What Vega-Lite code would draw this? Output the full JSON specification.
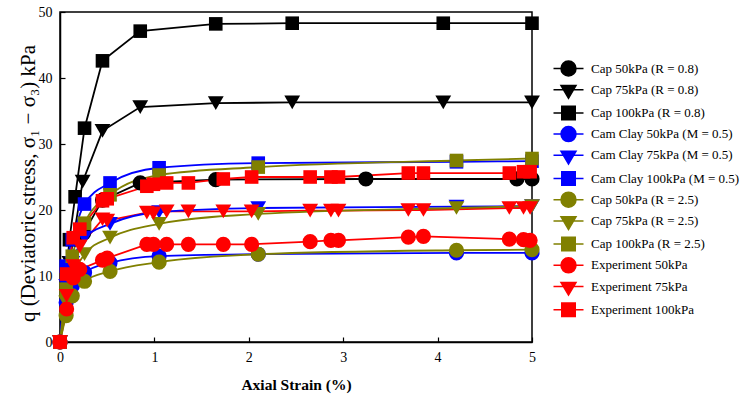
{
  "$schema": "https://vega.github.io/schema/vega-lite/v6.json",
  "autosize": {"type": "none"},
  "padding": {"left": 60, "top": 12, "right": 210, "bottom": 55},
  "width": 472,
  "height": 330,
  "background": "white",
  "config": {
    "view": {"stroke": "black", "strokeWidth": 1.5},
    "font": "Liberation Serif",
    "axis": {"grid": false, "domainColor": "black", "domainWidth": 1.5, "tickColor": "black", "tickWidth": 1.2, "labelFont": "Liberation Serif", "labelFontSize": 14, "labelColor": "black", "titleFont": "Liberation Serif", "titleColor": "black"},
    "legend": {"labelFont": "Liberation Serif", "labelFontSize": 13, "labelColor": "black", "labelOffset": 14, "rowPadding": 0.2, "symbolSize": 225, "symbolStrokeWidth": 1.5}
  },
  "datasets": {
    "curves": [
      {"series": "Cap 50kPa (R = 0.8)", "strain": 0, "q": 0},
      {"series": "Cap 50kPa (R = 0.8)", "strain": 0.1, "q": 10},
      {"series": "Cap 50kPa (R = 0.8)", "strain": 0.25, "q": 16.5},
      {"series": "Cap 50kPa (R = 0.8)", "strain": 0.45, "q": 21.5},
      {"series": "Cap 50kPa (R = 0.8)", "strain": 0.85, "q": 24.1},
      {"series": "Cap 50kPa (R = 0.8)", "strain": 1.65, "q": 24.6},
      {"series": "Cap 50kPa (R = 0.8)", "strain": 3.24, "q": 24.7},
      {"series": "Cap 50kPa (R = 0.8)", "strain": 4.84, "q": 24.7},
      {"series": "Cap 50kPa (R = 0.8)", "strain": 5, "q": 24.7},

      {"series": "Cap 75kPa (R = 0.8)", "strain": 0, "q": 0},
      {"series": "Cap 75kPa (R = 0.8)", "strain": 0.1, "q": 12},
      {"series": "Cap 75kPa (R = 0.8)", "strain": 0.24, "q": 24.3},
      {"series": "Cap 75kPa (R = 0.8)", "strain": 0.45, "q": 32},
      {"series": "Cap 75kPa (R = 0.8)", "strain": 0.85, "q": 35.6},
      {"series": "Cap 75kPa (R = 0.8)", "strain": 1.65, "q": 36.2},
      {"series": "Cap 75kPa (R = 0.8)", "strain": 2.46, "q": 36.3},
      {"series": "Cap 75kPa (R = 0.8)", "strain": 4.06, "q": 36.3},
      {"series": "Cap 75kPa (R = 0.8)", "strain": 5, "q": 36.3},

      {"series": "Cap 100kPa (R = 0.8)", "strain": 0, "q": 0},
      {"series": "Cap 100kPa (R = 0.8)", "strain": 0.1, "q": 15.5},
      {"series": "Cap 100kPa (R = 0.8)", "strain": 0.16, "q": 22},
      {"series": "Cap 100kPa (R = 0.8)", "strain": 0.26, "q": 32.4},
      {"series": "Cap 100kPa (R = 0.8)", "strain": 0.45, "q": 42.6},
      {"series": "Cap 100kPa (R = 0.8)", "strain": 0.85, "q": 47.1},
      {"series": "Cap 100kPa (R = 0.8)", "strain": 1.65, "q": 48.2},
      {"series": "Cap 100kPa (R = 0.8)", "strain": 2.46, "q": 48.3},
      {"series": "Cap 100kPa (R = 0.8)", "strain": 4.06, "q": 48.3},
      {"series": "Cap 100kPa (R = 0.8)", "strain": 5, "q": 48.3},

      {"series": "Cam Clay 50kPa (M = 0.5)", "strain": 0, "q": 0},
      {"series": "Cam Clay 50kPa (M = 0.5)", "strain": 0.065, "q": 6},
      {"series": "Cam Clay 50kPa (M = 0.5)", "strain": 0.13, "q": 8.5},
      {"series": "Cam Clay 50kPa (M = 0.5)", "strain": 0.26, "q": 10.5},
      {"series": "Cam Clay 50kPa (M = 0.5)", "strain": 0.53, "q": 12.0},
      {"series": "Cam Clay 50kPa (M = 0.5)", "strain": 1.05, "q": 13.0},
      {"series": "Cam Clay 50kPa (M = 0.5)", "strain": 2.1, "q": 13.3},
      {"series": "Cam Clay 50kPa (M = 0.5)", "strain": 4.2, "q": 13.5},
      {"series": "Cam Clay 50kPa (M = 0.5)", "strain": 5, "q": 13.5},

      {"series": "Cam Clay 75kPa (M = 0.5)", "strain": 0, "q": 0},
      {"series": "Cam Clay 75kPa (M = 0.5)", "strain": 0.065, "q": 8.5},
      {"series": "Cam Clay 75kPa (M = 0.5)", "strain": 0.13, "q": 12},
      {"series": "Cam Clay 75kPa (M = 0.5)", "strain": 0.26, "q": 15.8},
      {"series": "Cam Clay 75kPa (M = 0.5)", "strain": 0.53, "q": 17.9},
      {"series": "Cam Clay 75kPa (M = 0.5)", "strain": 1.05, "q": 19.7},
      {"series": "Cam Clay 75kPa (M = 0.5)", "strain": 2.1, "q": 20.3},
      {"series": "Cam Clay 75kPa (M = 0.5)", "strain": 4.2, "q": 20.5},
      {"series": "Cam Clay 75kPa (M = 0.5)", "strain": 5, "q": 20.6},

      {"series": "Cam Clay 100kPa (M = 0.5)", "strain": 0, "q": 0},
      {"series": "Cam Clay 100kPa (M = 0.5)", "strain": 0.065, "q": 11.5},
      {"series": "Cam Clay 100kPa (M = 0.5)", "strain": 0.13, "q": 15.5},
      {"series": "Cam Clay 100kPa (M = 0.5)", "strain": 0.26, "q": 20.9},
      {"series": "Cam Clay 100kPa (M = 0.5)", "strain": 0.53, "q": 24.1},
      {"series": "Cam Clay 100kPa (M = 0.5)", "strain": 1.05, "q": 26.4},
      {"series": "Cam Clay 100kPa (M = 0.5)", "strain": 2.1, "q": 27.1},
      {"series": "Cam Clay 100kPa (M = 0.5)", "strain": 4.2, "q": 27.3},
      {"series": "Cam Clay 100kPa (M = 0.5)", "strain": 5, "q": 27.4},

      {"series": "Cap 50kPa (R = 2.5)", "strain": 0, "q": 0},
      {"series": "Cap 50kPa (R = 2.5)", "strain": 0.065, "q": 4},
      {"series": "Cap 50kPa (R = 2.5)", "strain": 0.13, "q": 7.0},
      {"series": "Cap 50kPa (R = 2.5)", "strain": 0.26, "q": 9.2},
      {"series": "Cap 50kPa (R = 2.5)", "strain": 0.53, "q": 10.7},
      {"series": "Cap 50kPa (R = 2.5)", "strain": 1.05, "q": 12.1},
      {"series": "Cap 50kPa (R = 2.5)", "strain": 2.1, "q": 13.3},
      {"series": "Cap 50kPa (R = 2.5)", "strain": 4.2, "q": 13.9},
      {"series": "Cap 50kPa (R = 2.5)", "strain": 5, "q": 14.0},

      {"series": "Cap 75kPa (R = 2.5)", "strain": 0, "q": 0},
      {"series": "Cap 75kPa (R = 2.5)", "strain": 0.065, "q": 6},
      {"series": "Cap 75kPa (R = 2.5)", "strain": 0.13, "q": 9.5},
      {"series": "Cap 75kPa (R = 2.5)", "strain": 0.26, "q": 13.3},
      {"series": "Cap 75kPa (R = 2.5)", "strain": 0.53, "q": 15.8},
      {"series": "Cap 75kPa (R = 2.5)", "strain": 1.05, "q": 17.9},
      {"series": "Cap 75kPa (R = 2.5)", "strain": 2.1, "q": 19.4},
      {"series": "Cap 75kPa (R = 2.5)", "strain": 4.2, "q": 20.3},
      {"series": "Cap 75kPa (R = 2.5)", "strain": 5, "q": 20.6},

      {"series": "Cap 100kPa (R = 2.5)", "strain": 0, "q": 0},
      {"series": "Cap 100kPa (R = 2.5)", "strain": 0.065, "q": 8},
      {"series": "Cap 100kPa (R = 2.5)", "strain": 0.13, "q": 13},
      {"series": "Cap 100kPa (R = 2.5)", "strain": 0.26, "q": 18},
      {"series": "Cap 100kPa (R = 2.5)", "strain": 0.53, "q": 22.3},
      {"series": "Cap 100kPa (R = 2.5)", "strain": 1.05, "q": 25.3},
      {"series": "Cap 100kPa (R = 2.5)", "strain": 2.1, "q": 26.5},
      {"series": "Cap 100kPa (R = 2.5)", "strain": 4.2, "q": 27.5},
      {"series": "Cap 100kPa (R = 2.5)", "strain": 5, "q": 27.8},

      {"series": "Experiment 50kPa", "strain": 0, "q": 0},
      {"series": "Experiment 50kPa", "strain": 0.07, "q": 5.0},
      {"series": "Experiment 50kPa", "strain": 0.14, "q": 9.7},
      {"series": "Experiment 50kPa", "strain": 0.21, "q": 11.0},
      {"series": "Experiment 50kPa", "strain": 0.45, "q": 12.4},
      {"series": "Experiment 50kPa", "strain": 0.5, "q": 12.7},
      {"series": "Experiment 50kPa", "strain": 0.92, "q": 14.8},
      {"series": "Experiment 50kPa", "strain": 0.99, "q": 14.8},
      {"series": "Experiment 50kPa", "strain": 1.13, "q": 14.8},
      {"series": "Experiment 50kPa", "strain": 1.36, "q": 14.8},
      {"series": "Experiment 50kPa", "strain": 1.73, "q": 14.8},
      {"series": "Experiment 50kPa", "strain": 2.03, "q": 14.8},
      {"series": "Experiment 50kPa", "strain": 2.65, "q": 15.2},
      {"series": "Experiment 50kPa", "strain": 2.87, "q": 15.4},
      {"series": "Experiment 50kPa", "strain": 2.95, "q": 15.4},
      {"series": "Experiment 50kPa", "strain": 3.69, "q": 15.9},
      {"series": "Experiment 50kPa", "strain": 3.85, "q": 16.0},
      {"series": "Experiment 50kPa", "strain": 4.76, "q": 15.6},
      {"series": "Experiment 50kPa", "strain": 4.91, "q": 15.5},
      {"series": "Experiment 50kPa", "strain": 4.98, "q": 15.4},

      {"series": "Experiment 75kPa", "strain": 0, "q": 0},
      {"series": "Experiment 75kPa", "strain": 0.07, "q": 7},
      {"series": "Experiment 75kPa", "strain": 0.14, "q": 11.5},
      {"series": "Experiment 75kPa", "strain": 0.21, "q": 14.5},
      {"series": "Experiment 75kPa", "strain": 0.45, "q": 18.6},
      {"series": "Experiment 75kPa", "strain": 0.5, "q": 18.4},
      {"series": "Experiment 75kPa", "strain": 0.92, "q": 19.6},
      {"series": "Experiment 75kPa", "strain": 0.99, "q": 19.5},
      {"series": "Experiment 75kPa", "strain": 1.13, "q": 19.8},
      {"series": "Experiment 75kPa", "strain": 1.36, "q": 19.8},
      {"series": "Experiment 75kPa", "strain": 1.73, "q": 19.8},
      {"series": "Experiment 75kPa", "strain": 2.03, "q": 19.8},
      {"series": "Experiment 75kPa", "strain": 2.65, "q": 19.9},
      {"series": "Experiment 75kPa", "strain": 2.87, "q": 19.9},
      {"series": "Experiment 75kPa", "strain": 2.95, "q": 19.9},
      {"series": "Experiment 75kPa", "strain": 3.69, "q": 20.0},
      {"series": "Experiment 75kPa", "strain": 3.85, "q": 20.0},
      {"series": "Experiment 75kPa", "strain": 4.76, "q": 20.3},
      {"series": "Experiment 75kPa", "strain": 4.91, "q": 20.3},
      {"series": "Experiment 75kPa", "strain": 4.98, "q": 20.3},

      {"series": "Experiment 100kPa", "strain": 0, "q": 0},
      {"series": "Experiment 100kPa", "strain": 0.07, "q": 10.3},
      {"series": "Experiment 100kPa", "strain": 0.14, "q": 15.8},
      {"series": "Experiment 100kPa", "strain": 0.21, "q": 17.1},
      {"series": "Experiment 100kPa", "strain": 0.45, "q": 21.4},
      {"series": "Experiment 100kPa", "strain": 0.5, "q": 21.7},
      {"series": "Experiment 100kPa", "strain": 0.92, "q": 23.6},
      {"series": "Experiment 100kPa", "strain": 0.99, "q": 23.9},
      {"series": "Experiment 100kPa", "strain": 1.13, "q": 24.1},
      {"series": "Experiment 100kPa", "strain": 1.36, "q": 24.1},
      {"series": "Experiment 100kPa", "strain": 1.73, "q": 24.7},
      {"series": "Experiment 100kPa", "strain": 2.03, "q": 25.0},
      {"series": "Experiment 100kPa", "strain": 2.65, "q": 25.0},
      {"series": "Experiment 100kPa", "strain": 2.87, "q": 25.0},
      {"series": "Experiment 100kPa", "strain": 2.95, "q": 25.0},
      {"series": "Experiment 100kPa", "strain": 3.69, "q": 25.6},
      {"series": "Experiment 100kPa", "strain": 3.85, "q": 25.6},
      {"series": "Experiment 100kPa", "strain": 4.76, "q": 25.6},
      {"series": "Experiment 100kPa", "strain": 4.91, "q": 25.8},
      {"series": "Experiment 100kPa", "strain": 4.98, "q": 25.8}
    ]
  },
  "data": {"name": "curves"},
  "encoding": {
    "x": {"field": "strain", "type": "quantitative", "scale": {"domain": [0, 5], "nice": false, "zero": false},
      "axis": {"title": "Axial Strain (%)", "titleFontSize": 15.5, "titleFontWeight": "bold", "titlePadding": 13, "values": [0, 1, 2, 3, 4, 5], "format": "d", "tickSize": -5, "labelPadding": 13, "labelFlush": false}},
    "y": {"field": "q", "type": "quantitative", "scale": {"domain": [0, 50], "nice": false},
      "axis": {"title": "q (Deviatoric stress, σ₁ − σ₃) kPa", "titleFontSize": 21, "titleFontWeight": "normal", "titleX": -26, "titleY": 171, "titleBaseline": "alphabetic", "titleAngle": 270, "titleAlign": "center", "values": [0, 10, 20, 30, 40, 50], "tickSize": -5, "labelPadding": 13, "labelFlush": false}},
    "color": {"field": "series", "type": "nominal",
      "scale": {"domain": ["Cap 50kPa (R = 0.8)", "Cap 75kPa (R = 0.8)", "Cap 100kPa (R = 0.8)", "Cam Clay 50kPa (M = 0.5)", "Cam Clay 75kPa (M = 0.5)", "Cam Clay 100kPa (M = 0.5)", "Cap 50kPa (R = 2.5)", "Cap 75kPa (R = 2.5)", "Cap 100kPa (R = 2.5)", "Experiment 50kPa", "Experiment 75kPa", "Experiment 100kPa"],
        "range": ["#000000", "#000000", "#000000", "#0000ff", "#0000ff", "#0000ff", "#808000", "#808000", "#808000", "#ff0000", "#ff0000", "#ff0000"]},
      "legend": {"title": null, "orient": "none", "legendX": 500, "legendY": 48}}
  },
  "layer": [
    {
      "transform": [{"filter": {"field": "series", "oneOf": ["Cap 50kPa (R = 0.8)", "Cap 75kPa (R = 0.8)", "Cap 100kPa (R = 0.8)", "Experiment 50kPa", "Experiment 75kPa", "Experiment 100kPa"]}}],
      "mark": {"type": "line", "strokeWidth": 1.8, "clip": true},
      "encoding": {"detail": {"field": "series"}}
    },
    {
      "transform": [{"filter": {"field": "series", "oneOf": ["Cam Clay 50kPa (M = 0.5)", "Cam Clay 75kPa (M = 0.5)", "Cam Clay 100kPa (M = 0.5)", "Cap 50kPa (R = 2.5)", "Cap 75kPa (R = 2.5)", "Cap 100kPa (R = 2.5)"]}}],
      "mark": {"type": "line", "strokeWidth": 1.8, "interpolate": "monotone", "clip": true},
      "encoding": {"detail": {"field": "series"}}
    },
    {
      "mark": {"type": "point", "filled": true, "opacity": 1},
      "encoding": {
        "shape": {"condition": [{"test": "indexof(datum.series, '50kPa') >= 0", "value": "circle"}, {"test": "indexof(datum.series, '75kPa') >= 0", "value": "triangle-down"}], "value": "square"},
        "size": {"condition": [{"test": "indexof(datum.series, '50kPa') >= 0", "value": 230}, {"test": "indexof(datum.series, '75kPa') >= 0", "value": 250}], "value": 185}
      }
    },
    {
      "transform": [{"filter": "false"}],
      "mark": {"type": "point", "filled": true, "opacity": 1, "strokeWidth": 1.5},
      "encoding": {
        "shape": {"field": "series", "type": "nominal",
          "scale": {"domain": ["Cap 50kPa (R = 0.8)", "Cap 75kPa (R = 0.8)", "Cap 100kPa (R = 0.8)", "Cam Clay 50kPa (M = 0.5)", "Cam Clay 75kPa (M = 0.5)", "Cam Clay 100kPa (M = 0.5)", "Cap 50kPa (R = 2.5)", "Cap 75kPa (R = 2.5)", "Cap 100kPa (R = 2.5)", "Experiment 50kPa", "Experiment 75kPa", "Experiment 100kPa"],
            "range": ["M-2,0H2M1,0A1,1 0 1,1 -1,0A1,1 0 1,1 1,0Z", "M0,-1L0,-1M-2,0H2M-1,-0.55L1,-0.55L0,1.15Z", "M0,-1L0,-1M0,1L0,1M-2,0H2M-0.9,-0.9H0.9V0.9H-0.9Z", "M-2,0H2M1,0A1,1 0 1,1 -1,0A1,1 0 1,1 1,0Z", "M0,-1L0,-1M-2,0H2M-1,-0.55L1,-0.55L0,1.15Z", "M0,-1L0,-1M0,1L0,1M-2,0H2M-0.9,-0.9H0.9V0.9H-0.9Z", "M-2,0H2M1,0A1,1 0 1,1 -1,0A1,1 0 1,1 1,0Z", "M0,-1L0,-1M-2,0H2M-1,-0.55L1,-0.55L0,1.15Z", "M0,-1L0,-1M0,1L0,1M-2,0H2M-0.9,-0.9H0.9V0.9H-0.9Z", "M-2,0H2M1,0A1,1 0 1,1 -1,0A1,1 0 1,1 1,0Z", "M0,-1L0,-1M-2,0H2M-1,-0.55L1,-0.55L0,1.15Z", "M0,-1L0,-1M0,1L0,1M-2,0H2M-0.9,-0.9H0.9V0.9H-0.9Z"]},
          "legend": {"title": null, "orient": "none", "legendX": 500, "legendY": 48}},
        "stroke": {"field": "series", "type": "nominal",
          "scale": {"domain": ["Cap 50kPa (R = 0.8)", "Cap 75kPa (R = 0.8)", "Cap 100kPa (R = 0.8)", "Cam Clay 50kPa (M = 0.5)", "Cam Clay 75kPa (M = 0.5)", "Cam Clay 100kPa (M = 0.5)", "Cap 50kPa (R = 2.5)", "Cap 75kPa (R = 2.5)", "Cap 100kPa (R = 2.5)", "Experiment 50kPa", "Experiment 75kPa", "Experiment 100kPa"],
            "range": ["#000000", "#000000", "#000000", "#0000ff", "#0000ff", "#0000ff", "#808000", "#808000", "#808000", "#ff0000", "#ff0000", "#ff0000"]},
          "legend": {"title": null, "orient": "none", "legendX": 500, "legendY": 48}}
      }
    }
  ]
}
